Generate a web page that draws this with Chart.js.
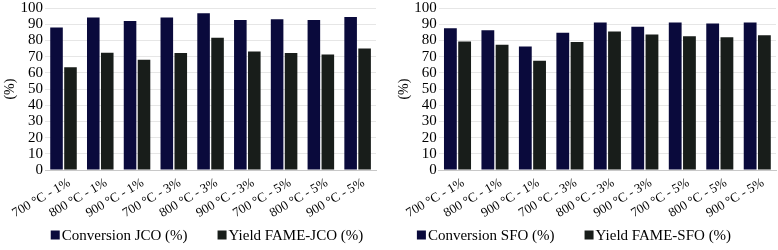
<!DOCTYPE html>
<html>
<head>
<meta charset="utf-8">
<script src="https://cdn.jsdelivr.net/npm/chart.js@4/dist/chart.umd.min.js"></script>
<style>
  html, body { margin: 0; padding: 0; background: #fff; }
  #wrap { width: 778px; height: 250px; display: flex; }
  .box { position: relative; height: 250px; }
  #boxL { width: 394px; }
  #boxR { width: 384px; }
</style>
</head>
<body>
<div id="wrap">
  <div class="box" id="boxL"><canvas id="chartJCO"></canvas></div>
  <div class="box" id="boxR"><canvas id="chartSFO"></canvas></div>
</div>
<script>
// categories (temperature - catalyst loading)
const categories = [
  "700 °C - 1%", "800 °C - 1%", "900 °C - 1%",
  "700 °C - 3%", "800 °C - 3%", "900 °C - 3%",
  "700 °C - 5%", "800 °C - 5%", "900 °C - 5%"
];

// left panel: jatropha oil
const conversionJCO = [87.9, 94.2, 92.0, 94.2, 96.7, 92.6, 93.0, 92.6, 94.5];
const yieldJCO      = [63.4, 72.4, 68.1, 72.2, 81.6, 73.2, 72.2, 71.3, 75.0];

// right panel: sunflower oil
const conversionSFO = [87.5, 86.3, 76.3, 84.8, 91.0, 88.5, 91.0, 90.4, 91.0];
const yieldSFO      = [79.3, 77.3, 67.5, 79.1, 85.5, 83.6, 82.6, 82.0, 83.2];

const NAVY = "#0a0a3c";
const DARK = "#181d1a";
const FONT = "'Liberation Serif'";
Chart.defaults.font.family = FONT;

// legend drawn by hand so the gap between the two entries can be wide
const bottomLegend = {
  id: "bottomLegend",
  afterDraw(chart, args, opts){
    const ctx = chart.ctx;
    ctx.save();
    ctx.font = "15px " + FONT;
    ctx.textBaseline = "middle";
    ctx.textAlign = "left";
    const box = 9, gapBox = 2, gapItem = 30;
    const items = chart.data.datasets.map(d => ({
      text: d.label, color: d.backgroundColor, w: ctx.measureText(d.label).width
    }));
    const total = items.reduce((s, it) => s + box + gapBox + it.w, 0) + gapItem * (items.length - 1);
    let x = opts.center - total / 2;
    items.forEach(it => {
      ctx.fillStyle = it.color;
      ctx.fillRect(x, opts.y - box / 2, box, box);
      x += box + gapBox;
      ctx.fillStyle = "#000";
      ctx.fillText(it.text, x, opts.y + 1);
      x += it.w + gapItem;
    });
    ctx.restore();
  }
};

function makeChart(id, convLabel, convData, yldLabel, yldData, padRight, legendCenter){
  const ctx = document.getElementById(id).getContext("2d");
  return new Chart(ctx, {
    type: "bar",
    data: {
      labels: categories,
      datasets: [
        { label: convLabel, data: convData, backgroundColor: NAVY,
          categoryPercentage: 0.76, barPercentage: 0.9 },
        { label: yldLabel, data: yldData, backgroundColor: DARK,
          categoryPercentage: 0.76, barPercentage: 0.9 }
      ]
    },
    plugins: [bottomLegend],
    options: {
      responsive: true,
      maintainAspectRatio: false,
      animation: false,
      layout: { padding: { top: 0, right: padRight, left: 0, bottom: 24 } },
      plugins: {
        tooltip: { enabled: false },
        legend: { display: false },
        bottomLegend: { center: legendCenter, y: 235 }
      },
      scales: {
        x: {
          grid: { display: false, drawTicks: false },
          border: { color: "#c8c8c8" },
          ticks: {
            color: "#000", autoSkip: false,
            font: { family: FONT, size: 13 },
            minRotation: 30, maxRotation: 30,
            padding: 5, labelOffset: 6
          }
        },
        y: {
          min: 0, max: 100,
          grid: { color: "#e6e6e6", drawTicks: false },
          border: { display: false },
          ticks: {
            stepSize: 10, autoSkip: false, color: "#000",
            font: { family: FONT, size: 15, lineHeight: 0.8 },
            padding: 2
          },
          title: { display: true, text: "(%)", color: "#000", font: { family: FONT, size: 14 }, padding: 0 }
        }
      }
    }
  });
}

makeChart("chartJCO", "Conversion JCO (%)", conversionJCO, "Yield FAME-JCO (%)", yieldJCO, 18, 207);
makeChart("chartSFO", "Conversion SFO (%)", conversionSFO, "Yield FAME-SFO (%)", yieldSFO, 2, 180);
</script>
</body>
</html>
